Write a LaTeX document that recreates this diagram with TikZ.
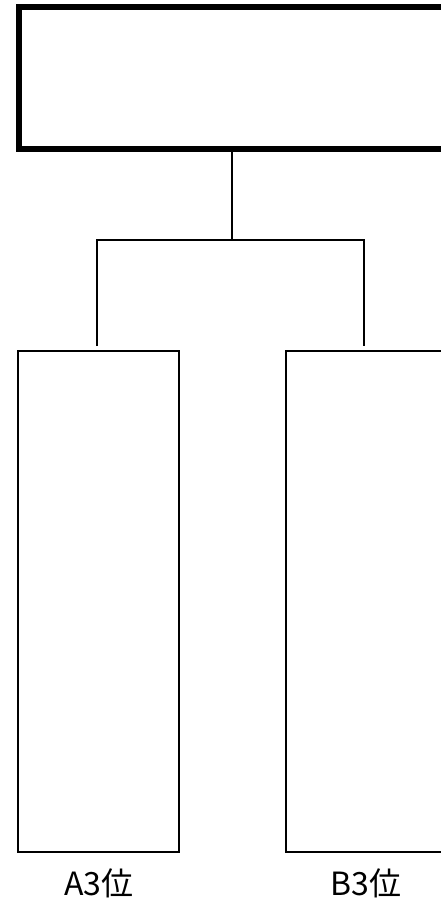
\documentclass[tikz,border=0pt]{standalone}
\usepackage{fontspec}
\newfontfamily\jpfont{Noto Sans CJK JP}
\usetikzlibrary{positioning}

\tikzset{
  headbox/.style={draw, line width=6pt, minimum width=441pt, minimum height=142pt, inner sep=0pt},
  rankbox/.style={draw, line width=2.5pt, minimum width=161pt, minimum height=501pt, inner sep=0pt},
  ranklabel/.style={font=\jpfont\fontsize{32}{32}\selectfont, inner sep=0pt},
  stem/.style={line width=2.7pt},
  branch/.style={line width=1.3pt},
}

\begin{document}
\begin{tikzpicture}[x=1pt,y=-1pt]
\useasboundingbox (0,0) rectangle (441,905);
% Header box
\node[headbox] (head) at (239.5,78) {};
% Rank boxes
\node[rankbox] (boxA) at (98.5,601.5) {};
\node[rankbox] (boxB) at (366.5,601.5) {};
\node[ranklabel] (labA) at (99,883) {A3位};
\node[ranklabel] (labB) at (366,883) {B3位};
% Tree lines
\coordinate (split) at (232,240);
\coordinate (dropA) at (97,346);
\coordinate (dropB) at (364,346);
\draw[stem] (head.south -| split) -- (split);
\draw[branch] (dropA) |- (split) -| (dropB);
\end{tikzpicture}
\end{document}
